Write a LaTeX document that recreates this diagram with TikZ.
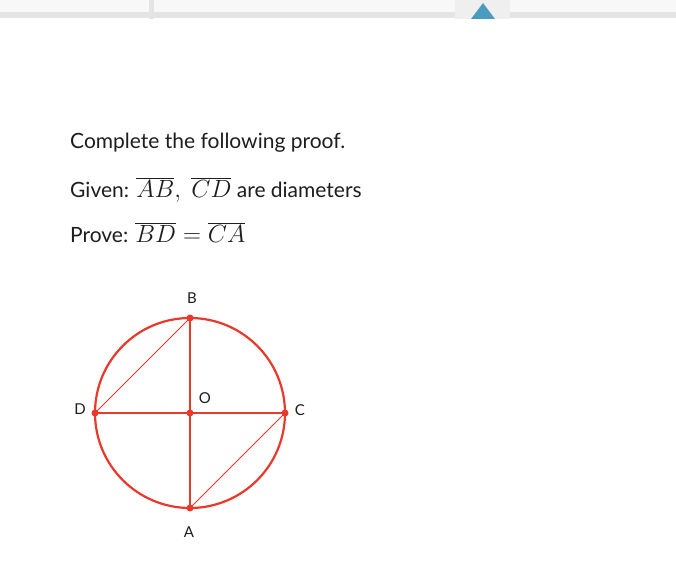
\documentclass[tikz,border=0pt]{standalone}
\usepackage{fontspec}
\setmainfont{Lato}
\definecolor{geored}{HTML}{E8392B}
\definecolor{txt}{HTML}{1E1E1E}
\definecolor{barbg}{HTML}{F8F8F8}
\definecolor{barline}{HTML}{E4E4E4}
\definecolor{tabbg}{HTML}{EFEFEF}
\definecolor{tri}{HTML}{4A9BC0}
\newcommand{\mathbig}[1]{{\fontsize{24}{28}\selectfont #1}}
\begin{document}
\begin{tikzpicture}[x=1pt,y=-1pt,
  line/.style={text=txt,anchor=base west,inner sep=0pt,font=\fontsize{21}{24}\selectfont},
  ptlabel/.style={text=txt,inner sep=0pt,font=\fontsize{15}{18}\selectfont},
  dot/.style={circle,fill=geored,inner sep=0pt,minimum size=7pt},
  thick line/.style={geored,line width=2.2pt},
  thin line/.style={geored,line width=1pt}]
\useasboundingbox (0,0) rectangle (676,586);
\fill[white] (0,0) rectangle (676,586);
% top bar
\fill[barbg] (0,0) rectangle (676,12);
\fill[barline] (0,12) rectangle (676,18);
\fill[barline] (149,0) rectangle (154,19);
\fill[tabbg] (455,0) rectangle (510,19);
\fill[tri] (471,19) -- (483,3) -- (495,19) -- cycle;
% text
\node[line] (t1) at (70,148.5) {Complete the following proof.};
\node[line] (t2) at (70,197) {Given: \mathbig{$\overline{AB},\ \overline{CD}$} are diameters};
\node[line] (t3) at (70,242) {Prove: \mathbig{$\overline{BD}=\overline{CA}$}};
% figure
\coordinate (O) at (190,413);
\draw[thick line] (O) circle[radius=95];
\node[dot] (B) at (190,318) {};
\node[dot] (A) at (190,508) {};
\node[dot] (D) at (95,413) {};
\node[dot] (C) at (285,413) {};
\node[dot] (Od) at (O) {};
\draw[thick line] (B.center) -- (A.center);
\draw[thick line] (D.center) -- (C.center);
\draw[thin line] (D.center) -- (B.center);
\draw[thin line] (C.center) -- (A.center);
\node[ptlabel] (lB) at (192,298) {B};
\node[ptlabel] (lA) at (189,532) {A};
\node[ptlabel] (lD) at (80,409) {D};
\node[ptlabel] (lC) at (300,410) {C};
\node[ptlabel] (lO) at (205,398) {O};
\end{tikzpicture}
\end{document}
